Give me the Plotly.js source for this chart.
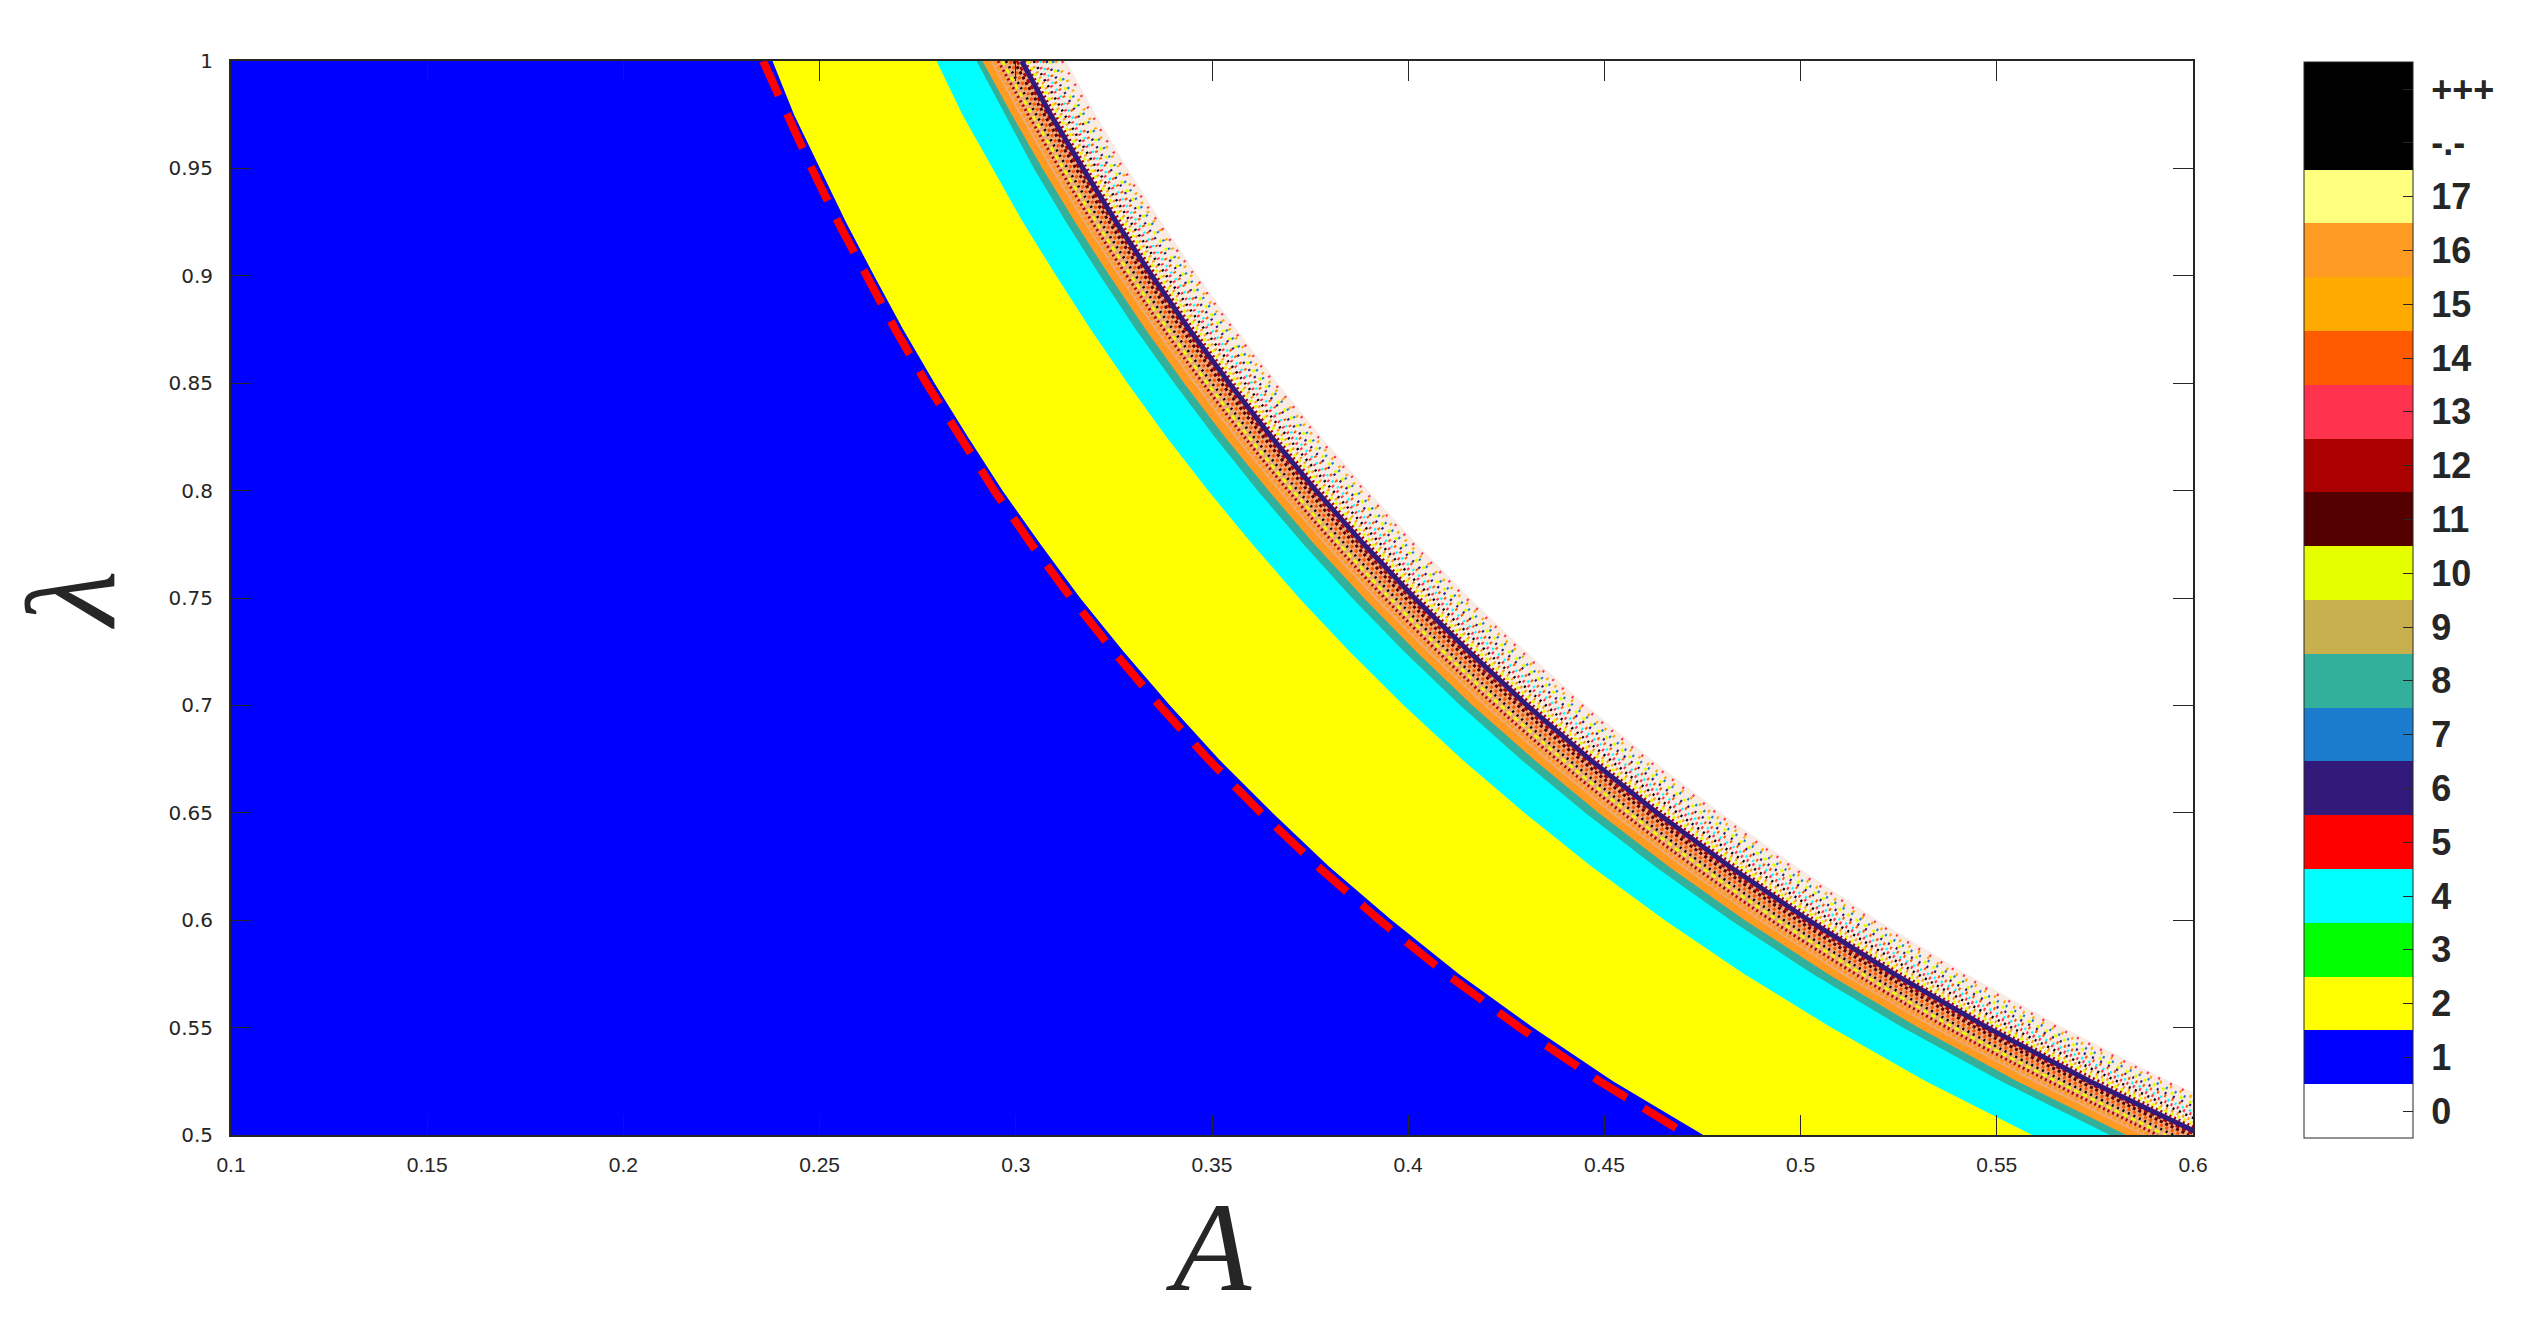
<!DOCTYPE html>
<html>
<head>
<meta charset="utf-8">
<script src="https://cdn.plot.ly/plotly-3.0.1.min.js"></script>
<style>html,body{margin:0;padding:0;background:#fff;}#chart{width:2532px;height:1336px;}</style>
</head>
<body>
<div id="chart"></div>
<script>
// ---------------- DATA ----------------
// lambda rows, top to bottom (region edges)
const lambdaRows = [1.0, 0.975, 0.95, 0.925, 0.9, 0.875, 0.85, 0.825, 0.8, 0.775, 0.75,
                    0.725, 0.7, 0.675, 0.65, 0.625, 0.6, 0.575, 0.55, 0.525, 0.5];
// A position of each region edge / curve at those lambda rows
const curveRedDashed  = [0.2356, 0.2416, 0.2480, 0.2547, 0.2618, 0.2693, 0.2772, 0.2856, 0.2945, 0.3040, 0.3141, 0.3250, 0.3366, 0.3490, 0.3625, 0.3770, 0.3927, 0.4097, 0.4284, 0.4488, 0.4712];
const edgeBlueYellow  = [0.2380, 0.2435, 0.2500, 0.2567, 0.2639, 0.2713, 0.2793, 0.2878, 0.2966, 0.3063, 0.3164, 0.3275, 0.3393, 0.3517, 0.3654, 0.3798, 0.3958, 0.4129, 0.4318, 0.4522, 0.4752];
const edgeYellowCyan  = [0.2798, 0.2864, 0.2940, 0.3018, 0.3103, 0.3191, 0.3285, 0.3384, 0.3490, 0.3603, 0.3722, 0.3851, 0.3989, 0.4136, 0.4296, 0.4467, 0.4654, 0.4856, 0.5078, 0.5319, 0.5590];
const edgeCyanTeal    = [0.2900, 0.2973, 0.3046, 0.3128, 0.3215, 0.3306, 0.3404, 0.3507, 0.3616, 0.3733, 0.3857, 0.3990, 0.4133, 0.4286, 0.4451, 0.4629, 0.4822, 0.5031, 0.5260, 0.5511, 0.5788];
const edgeTealOrange  = [0.2915, 0.2990, 0.3068, 0.3151, 0.3239, 0.3331, 0.3429, 0.3533, 0.3644, 0.3761, 0.3887, 0.4021, 0.4164, 0.4319, 0.4485, 0.4664, 0.4858, 0.5070, 0.5300, 0.5552, 0.5830];
const edgeOrangeMixed = [0.2935, 0.3010, 0.3089, 0.3173, 0.3261, 0.3354, 0.3453, 0.3558, 0.3669, 0.3787, 0.3913, 0.4048, 0.4193, 0.4348, 0.4515, 0.4696, 0.4892, 0.5104, 0.5336, 0.5591, 0.5870];
const curvePurple     = [0.3015, 0.3089, 0.3171, 0.3256, 0.3347, 0.3442, 0.3544, 0.3651, 0.3765, 0.3887, 0.4016, 0.4155, 0.4303, 0.4462, 0.4634, 0.4819, 0.5020, 0.5238, 0.5476, 0.5737, 0.6024];
const edgeOuter       = [0.3128, 0.3204, 0.3285, 0.3371, 0.3464, 0.3563, 0.3668, 0.3779, 0.3898, 0.4023, 0.4157, 0.4301, 0.4454, 0.4619, 0.4797, 0.4989, 0.5197, 0.5423, 0.5669, 0.5939, 0.6236];

// lambda rows for the speckle streaks (drawn smoothed)
const streakRows = [1.0, 0.95, 0.9, 0.85, 0.8, 0.75, 0.7, 0.65, 0.6, 0.55, 0.5];
// streaks inside the dense mixed band
const streak1 = [0.2945, 0.3100, 0.3272, 0.3465, 0.3681, 0.3927, 0.4207, 0.4531, 0.4908, 0.5355, 0.5890];
const streak2 = [0.2955, 0.3111, 0.3283, 0.3477, 0.3694, 0.3940, 0.4221, 0.4546, 0.4925, 0.5373, 0.5910];
const streak3 = [0.2965, 0.3121, 0.3294, 0.3488, 0.3706, 0.3953, 0.4236, 0.4562, 0.4942, 0.5391, 0.5930];
const streak4 = [0.2975, 0.3132, 0.3306, 0.3500, 0.3719, 0.3967, 0.4250, 0.4577, 0.4958, 0.5409, 0.5950];
const streak5 = [0.2985, 0.3142, 0.3317, 0.3512, 0.3731, 0.3980, 0.4264, 0.4592, 0.4975, 0.5427, 0.5970];
const streak6 = [0.2995, 0.3153, 0.3328, 0.3524, 0.3744, 0.3993, 0.4279, 0.4608, 0.4992, 0.5446, 0.5990];
const streak7 = [0.3003, 0.3161, 0.3337, 0.3533, 0.3754, 0.4004, 0.4290, 0.4620, 0.5005, 0.5460, 0.6006];
// sparse speckle streaks beyond the purple curve
const sparse1  = [0.3022, 0.3181, 0.3358, 0.3555, 0.3778, 0.4029, 0.4317, 0.4649, 0.5037, 0.5495, 0.6044];
const sparse2  = [0.3030, 0.3190, 0.3367, 0.3565, 0.3788, 0.4040, 0.4329, 0.4662, 0.5050, 0.5509, 0.6060];
const sparse3  = [0.3038, 0.3198, 0.3376, 0.3574, 0.3798, 0.4051, 0.4340, 0.4674, 0.5063, 0.5524, 0.6076];
const sparse4  = [0.3046, 0.3206, 0.3384, 0.3584, 0.3808, 0.4061, 0.4351, 0.4686, 0.5077, 0.5538, 0.6092];
const sparse5  = [0.3054, 0.3215, 0.3393, 0.3593, 0.3818, 0.4072, 0.4363, 0.4699, 0.5090, 0.5553, 0.6108];
const sparse6  = [0.3062, 0.3223, 0.3402, 0.3602, 0.3828, 0.4083, 0.4374, 0.4711, 0.5103, 0.5567, 0.6124];
const sparse7  = [0.3070, 0.3232, 0.3411, 0.3612, 0.3838, 0.4093, 0.4386, 0.4723, 0.5117, 0.5582, 0.6140];
const sparse8  = [0.3078, 0.3240, 0.3420, 0.3621, 0.3848, 0.4104, 0.4397, 0.4735, 0.5130, 0.5596, 0.6156];
const sparse9  = [0.3086, 0.3248, 0.3429, 0.3631, 0.3858, 0.4115, 0.4409, 0.4748, 0.5143, 0.5611, 0.6172];
const sparse10 = [0.3094, 0.3257, 0.3438, 0.3640, 0.3868, 0.4125, 0.4420, 0.4760, 0.5157, 0.5625, 0.6188];
const sparse11 = [0.3102, 0.3265, 0.3447, 0.3649, 0.3878, 0.4136, 0.4431, 0.4772, 0.5170, 0.5640, 0.6204];
const sparse12 = [0.3118, 0.3274, 0.3456, 0.3659, 0.3888, 0.4147, 0.4443, 0.4785, 0.5183, 0.5655, 0.6220];

// colour bar categories
const categoryCodes  = [0, 1, 2, 3, 4, 5, 6, 7, 8, 9, 10, 11, 12, 13, 14, 15, 16, 17, 18, 19];
const categoryLabels = ['0','1','2','3','4','5','6','7','8','9','10','11','12','13','14','15','16','17','-.-','+++'];

// axis ticks
const xTickVals = [0.1, 0.15, 0.2, 0.25, 0.3, 0.35, 0.4, 0.45, 0.5, 0.55, 0.6];
const xTickText = ['0.1','0.15','0.2','0.25','0.3','0.35','0.4','0.45','0.5','0.55','0.6'];
const yTickVals = [0.5, 0.55, 0.6, 0.65, 0.7, 0.75, 0.8, 0.85, 0.9, 0.95, 1];
const yTickText = ['0.5','0.55','0.6','0.65','0.7','0.75','0.8','0.85','0.9','0.95','1'];

// ---------------- STYLES ----------------
const categoryColors = ['#ffffff','#0000ff','#ffff00','#00ff00','#00ffff','#ff0000','#321a7a','#1b7bcd',
  '#33b09b','#c8b04e','#e6ff00','#550000','#aa0000','#ff334d','#ff5a00','#ffaa00','#ff9a22','#ffff80',
  '#000000','#000000'];
const denseBase = '#eeaa78';
const sparseBase = '#f8ebe4';
const ink = '#262626';

// ---------------- BUILD ----------------
function leftRegion(edge, color) {
  return {
    type: 'scatter', mode: 'lines', hoverinfo: 'skip', showlegend: false,
    x: [0.05].concat(edge, [0.05]),
    y: [1.0].concat(lambdaRows, [0.5]),
    fill: 'toself', fillcolor: color,
    line: {width: 0, color: color}
  };
}
function curve(edge, rows, color, width, dash, smooth) {
  return {
    type: 'scatter', mode: 'lines', hoverinfo: 'skip', showlegend: false,
    x: edge, y: rows,
    line: {color: color, width: width, dash: dash || 'solid', shape: smooth ? 'spline' : 'linear'}
  };
}
const C = categoryColors;
const traces = [
  leftRegion(edgeOuter, sparseBase),
  leftRegion(curvePurple, denseBase),
  leftRegion(edgeOrangeMixed, C[16]),
  leftRegion(edgeTealOrange, C[8]),
  leftRegion(edgeCyanTeal, C[4]),
  leftRegion(edgeYellowCyan, C[2]),
  leftRegion(edgeBlueYellow, C[1]),
  // sparse speckles
  curve(sparse1,  streakRows, C[12], 3, '2px,3px', true),
  curve(sparse2,  streakRows, C[10], 3, '3px,4px', true),
  curve(sparse3,  streakRows, C[16], 3, '2px,4px', true),
  curve(sparse4,  streakRows, '#000000', 2.5, '2px,5px', true),
  curve(sparse5,  streakRows, C[13], 3, '2px,5px', true),
  curve(sparse6,  streakRows, C[4],  2.5, '2px,6px', true),
  curve(sparse7,  streakRows, C[14], 3, '2px,6px', true),
  curve(sparse8,  streakRows, C[6],  2.5, '2px,7px', true),
  curve(sparse9,  streakRows, C[10], 3, '3px,7px', true),
  curve(sparse10, streakRows, C[7],  2.5, '2px,8px', true),
  curve(sparse11, streakRows, C[15], 3, '2px,9px', true),
  curve(sparse12, streakRows, C[13], 2.5, '2px,11px', true),
  // dense speckles
  curve(streak1, streakRows, C[16], 3.5, '4px,2px', true),
  curve(streak2, streakRows, C[12], 3, '2px,3px', true),
  curve(streak3, streakRows, C[10], 2.5, '5px,4px', true),
  curve(streak4, streakRows, '#000000', 2.5, '2px,4px', true),
  curve(streak5, streakRows, C[14], 3, '3px,3px', true),
  curve(streak6, streakRows, C[11], 3, '3px,3px', true),
  curve(streak7, streakRows, C[12], 2.5, '4px,3px', true),
  // purple curve and red dashed theory curve
  curve(curvePurple, lambdaRows, C[6], 5, 'solid', false),
  curve(curveRedDashed, lambdaRows, '#ff0000', 8, '38px,20px', false)
];

// discrete colour scale for the colour bar
const n = categoryColors.length;
const colorscale = [];
categoryColors.forEach((c, i) => { colorscale.push([i / n, c]); colorscale.push([(i + 1) / n, c]); });

traces.push({
  type: 'scatter', mode: 'markers', hoverinfo: 'skip', showlegend: false,
  x: [0.15], y: [0.75],
  marker: {
    size: 1, opacity: 0, color: [categoryCodes[0]],
    colorscale: colorscale, cmin: -0.5, cmax: n - 0.5, showscale: true,
    colorbar: {
      thickness: 109, thicknessmode: 'pixels',
      len: 1076, lenmode: 'pixels',
      x: 1.0566, xanchor: 'left', y: 0.498, yanchor: 'middle',
      xpad: 0, ypad: 0,
      outlinewidth: 1, outlinecolor: ink,
      tickmode: 'array', tickvals: categoryCodes,
      ticktext: categoryLabels.map(t => '\u00a0' + t),
      ticks: 'inside', ticklen: 10, tickwidth: 1, tickcolor: ink,
      tickfont: {family: 'Liberation Sans, Arial, sans-serif', size: 36, color: ink, weight: 'bold'}
    }
  }
});

const layout = {
  width: 2532, height: 1336,
  margin: {l: 231, r: 339, t: 61, b: 201, pad: 0},
  paper_bgcolor: '#ffffff', plot_bgcolor: '#ffffff',
  showlegend: false,
  xaxis: {
    range: [0.1, 0.6], tickmode: 'array', tickvals: xTickVals, ticktext: xTickText,
    ticks: 'inside', ticklen: 20, tickwidth: 1, tickcolor: ink,
    showline: true, linewidth: 2, linecolor: ink, mirror: 'ticks',
    showgrid: false, zeroline: false, ticklabelstandoff: 10,
    tickfont: {family: 'Liberation Sans, Arial, sans-serif', size: 21, color: ink},
    title: {text: '<i>A</i>', standoff: 22,
      font: {family: 'Liberation Serif, Times New Roman, serif', size: 128, color: ink}}
  },
  yaxis: {
    range: [0.5, 1], tickmode: 'array', tickvals: yTickVals, ticktext: yTickText,
    ticks: 'inside', ticklen: 20, tickwidth: 1, tickcolor: ink,
    showline: true, linewidth: 2, linecolor: ink, mirror: 'ticks',
    showgrid: false, zeroline: false, ticklabelstandoff: 12,
    tickfont: {family: 'DejaVu Sans, sans-serif', size: 20, color: ink},
    title: {text: '<i>λ</i>', standoff: 24,
      font: {family: 'Liberation Serif, Times New Roman, serif', size: 128, color: ink}}
  }
};

Plotly.newPlot('chart', traces, layout, {displayModeBar: false, staticPlot: true});
</script>
</body>
</html>
